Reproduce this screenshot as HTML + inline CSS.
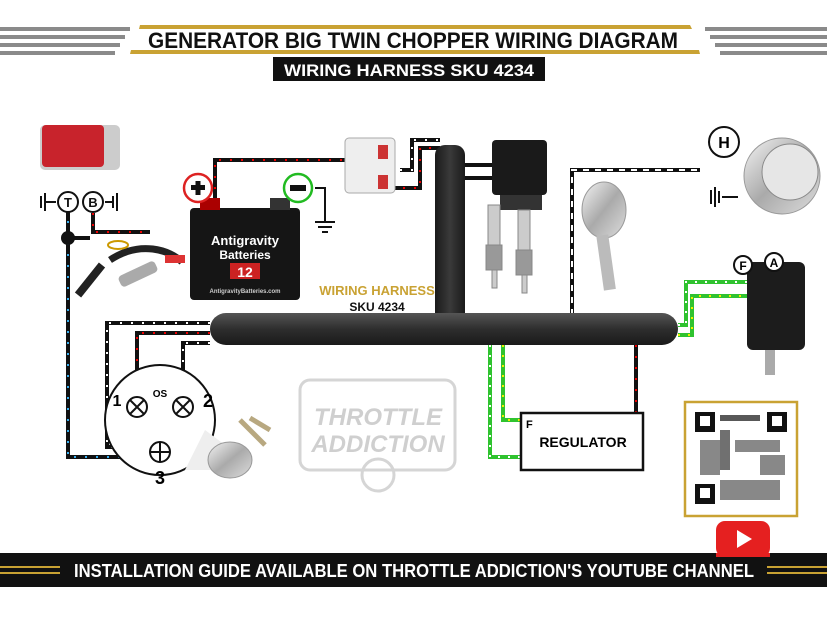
<!DOCTYPE html>
<html><head><meta charset="utf-8"><style>
html,body{margin:0;padding:0;background:#fff}
svg{display:block}
text{font-family:"Liberation Sans",sans-serif;font-weight:bold}
</style></head><body>
<svg width="827" height="620" viewBox="0 0 827 620" xmlns="http://www.w3.org/2000/svg">
<defs>
<linearGradient id="tube" x1="0" y1="0" x2="0" y2="1"><stop offset="0" stop-color="#555"/><stop offset="0.5" stop-color="#2e2e2e"/><stop offset="1" stop-color="#1a1a1a"/></linearGradient>
<linearGradient id="tubev" x1="0" y1="0" x2="1" y2="0"><stop offset="0" stop-color="#1a1a1a"/><stop offset="0.5" stop-color="#3a3a3a"/><stop offset="1" stop-color="#1a1a1a"/></linearGradient>
<linearGradient id="chrome" x1="0" y1="0" x2="1" y2="1"><stop offset="0" stop-color="#f4f4f4"/><stop offset="0.5" stop-color="#aaa"/><stop offset="1" stop-color="#ddd"/></linearGradient>
</defs>
<!-- header stripes -->
<g fill="#8a8a8a">
<rect x="0" y="27" width="130" height="4"/><rect x="0" y="35" width="125" height="4"/><rect x="0" y="43" width="120" height="4"/><rect x="0" y="51" width="115" height="4"/>
<rect x="705" y="27" width="122" height="4"/><rect x="710" y="35" width="117" height="4"/><rect x="715" y="43" width="112" height="4"/><rect x="720" y="51" width="107" height="4"/>
</g>
<polygon points="140,25 690,25 700,54 130,54" fill="#fff"/>
<polygon points="140,25 690,25 692,29 139,29" fill="#c9a233"/>
<polygon points="131,50 699,50 700,54 130,54" fill="#c9a233"/>
<text x="413" y="48" text-anchor="middle" font-size="22" fill="#111" textLength="530" lengthAdjust="spacingAndGlyphs">GENERATOR BIG TWIN CHOPPER WIRING DIAGRAM</text>
<rect x="273" y="57" width="272" height="24" fill="#111"/>
<text x="409" y="76" text-anchor="middle" font-size="17" fill="#fff" textLength="250" lengthAdjust="spacingAndGlyphs">WIRING HARNESS SKU 4234</text>

<!-- wires -->
<g fill="none" stroke-linejoin="miter">
<g stroke="#111" stroke-width="4">
<path d="M68,210 V457 H157"/>
<path d="M93,213 V232 H150"/>
<path d="M68,238 H90"/>
<path d="M210,323 H107 V447 H155"/>
<path d="M210,333 H137 V392"/>
<path d="M210,343 H183 V392"/>
<path d="M215,200 V160 H348"/>
<path d="M392,188 H420 V148 H440"/>
<path d="M400,170 H412 V140 H440"/>
<path d="M465,178 H497"/>
<path d="M465,165 H497"/>
<path d="M572,315 V170 H700"/>
<path d="M678,325 H686 V282 H748"/>
<path d="M678,335 H692 V296 H770 V282"/>
<path d="M490,345 V457 H527"/>
<path d="M503,345 V420 H522"/>
<path d="M636,345 V413"/>
</g>
<g stroke-width="2" stroke-dasharray="2 9">
<path d="M68,210 V457 H157" stroke="#3ab0f0"/>
<path d="M93,213 V232 H150" stroke="#e00"/>
<path d="M210,323 H107 V447 H155" stroke="#fff"/>
<path d="M210,333 H137 V392" stroke="#e00"/>
<path d="M210,343 H183 V392" stroke="#fff"/>
<path d="M215,200 V160 H348" stroke="#e00"/>
<path d="M392,188 H420 V148 H440" stroke="#e00"/>
<path d="M400,170 H412 V140 H440" stroke="#fff"/>
<path d="M572,315 V170 H700" stroke="#fff" stroke-dasharray="6 6"/>
<path d="M636,345 V413" stroke="#e00"/>
</g>
<g stroke="#2fc32f" stroke-width="4">
<path d="M678,325 H686 V282 H748"/>
<path d="M678,335 H692 V296 H770 V282"/>
<path d="M490,345 V457 H527"/>
<path d="M503,345 V420 H522"/>
</g>
<g stroke-width="2" stroke-dasharray="2 8">
<path d="M678,325 H686 V282 H748" stroke="#fff"/>
<path d="M678,335 H692 V296 H770 V282" stroke="#ee0"/>
<path d="M490,345 V457 H527" stroke="#fff"/>
<path d="M503,345 V420 H522" stroke="#ee0"/>
</g>
</g>
<circle cx="68" cy="238" r="7" fill="#111"/>

<!-- tail light -->
<rect x="40" y="125" width="80" height="45" rx="5" fill="#ccc"/>
<rect x="42" y="125" width="62" height="42" rx="4" fill="#c8232c"/>
<g fill="#111">
<circle cx="68" cy="202" r="10" fill="#fff" stroke="#111" stroke-width="2"/><text x="68" y="207" text-anchor="middle" font-size="13">T</text>
<circle cx="93" cy="202" r="10" fill="#fff" stroke="#111" stroke-width="2"/><text x="93" y="207" text-anchor="middle" font-size="13">B</text>
<rect x="40" y="196" width="2" height="12"/><rect x="44" y="193" width="2" height="18"/><rect x="46" y="201" width="10" height="2"/>
<rect x="112" y="196" width="2" height="12"/><rect x="116" y="193" width="2" height="18"/><rect x="105" y="201" width="8" height="2"/>
</g>
<!-- sensor parts -->
<path d="M110,260 C140,240 170,250 182,262" stroke="#222" stroke-width="7" fill="none"/>
<path d="M102,265 L78,295" stroke="#222" stroke-width="8"/>
<rect x="118" y="268" width="40" height="12" rx="4" fill="#aaa" transform="rotate(-25 138 274)"/>
<rect x="165" y="255" width="20" height="8" fill="#d33"/>
<ellipse cx="118" cy="245" rx="10" ry="4" fill="none" stroke="#c90" stroke-width="2"/>

<!-- battery -->
<rect x="190" y="208" width="110" height="92" rx="4" fill="#151515"/>
<rect x="200" y="198" width="20" height="12" fill="#a00"/><rect x="270" y="198" width="20" height="12" fill="#333"/>
<text x="245" y="245" text-anchor="middle" font-size="13" fill="#fff">Antigravity</text>
<text x="245" y="259" text-anchor="middle" font-size="12" fill="#fff">Batteries</text>
<rect x="230" y="263" width="30" height="16" fill="#c22"/><text x="245" y="277" text-anchor="middle" font-size="14" fill="#fff">12</text>
<text x="245" y="293" text-anchor="middle" font-size="6" fill="#ccc">AntigravityBatteries.com</text>
<circle cx="198" cy="188" r="14" fill="#fff" stroke="#d22" stroke-width="2.5"/>
<rect x="191" y="185" width="14" height="5" fill="#111"/><rect x="195.5" y="181" width="5" height="14" fill="#111"/>
<circle cx="298" cy="188" r="14" fill="#fff" stroke="#2b2" stroke-width="2.5"/>
<rect x="290" y="185" width="16" height="6" fill="#111"/>
<path d="M315,188 H325 V222 M315,222 H335 M318,227 H332 M322,232 H328" stroke="#111" stroke-width="2" fill="none"/>

<!-- circuit breaker -->
<rect x="345" y="138" width="50" height="55" rx="4" fill="#eee" stroke="#aaa"/>
<rect x="378" y="145" width="10" height="14" fill="#c33"/><rect x="378" y="175" width="10" height="14" fill="#c33"/>

<!-- harness tubes -->
<rect x="435" y="145" width="30" height="180" rx="10" fill="url(#tubev)"/>
<rect x="210" y="313" width="468" height="32" rx="16" fill="url(#tube)"/>
<text x="377" y="295" text-anchor="middle" font-size="13" fill="#c9a233">WIRING HARNESS</text>
<text x="377" y="311" text-anchor="middle" font-size="12" fill="#111">SKU 4234</text>

<!-- coil -->
<rect x="492" y="140" width="55" height="55" rx="4" fill="#1a1a1a"/>
<rect x="500" y="195" width="42" height="15" fill="#333"/>
<!-- spark plugs -->
<g fill="#ccc" stroke="#888">
<rect x="488" y="205" width="12" height="40"/><rect x="486" y="245" width="16" height="25" fill="#999"/><rect x="492" y="270" width="5" height="18"/>
<rect x="518" y="210" width="12" height="40"/><rect x="516" y="250" width="16" height="25" fill="#999"/><rect x="522" y="275" width="5" height="18"/>
</g>
<!-- oil tank part -->
<ellipse cx="604" cy="210" rx="22" ry="28" fill="url(#chrome)" stroke="#999"/>
<rect x="600" y="235" width="12" height="55" fill="#bbb" transform="rotate(-8 606 262)"/>

<!-- headlight -->
<circle cx="724" cy="142" r="15" fill="#fff" stroke="#111" stroke-width="2"/><text x="724" y="148" text-anchor="middle" font-size="16">H</text>
<circle cx="782" cy="176" r="38" fill="url(#chrome)" stroke="#999"/>
<circle cx="790" cy="172" r="28" fill="#e6e6e6" stroke="#888"/>
<g fill="#111"><rect x="710" y="190" width="2" height="14"/><rect x="714" y="187" width="2" height="20"/><rect x="718" y="191" width="2" height="12"/><rect x="722" y="196" width="16" height="2"/></g>

<!-- generator -->
<rect x="747" y="262" width="58" height="88" rx="6" fill="#1c1c1c"/>
<rect x="765" y="350" width="10" height="25" fill="#aaa"/>
<circle cx="743" cy="265" r="9" fill="#fff" stroke="#111" stroke-width="2"/><text x="743" y="270" text-anchor="middle" font-size="12">F</text>
<circle cx="774" cy="262" r="9" fill="#fff" stroke="#111" stroke-width="2"/><text x="774" y="267" text-anchor="middle" font-size="12">A</text>

<!-- regulator -->
<rect x="521" y="413" width="122" height="57" fill="#fff" stroke="#111" stroke-width="2.5"/>
<text x="526" y="428" font-size="11">F</text>
<text x="583" y="447" text-anchor="middle" font-size="14">REGULATOR</text>

<!-- ignition switch -->
<circle cx="160" cy="420" r="55" fill="#fff" stroke="#111" stroke-width="2"/>
<g stroke="#111" stroke-width="2" fill="#fff">
<circle cx="137" cy="407" r="10"/><path d="M130,400 L144,414 M144,400 L130,414"/>
<circle cx="183" cy="407" r="10"/><path d="M176,400 L190,414 M190,400 L176,414"/>
<circle cx="160" cy="452" r="10"/><path d="M150,452 H170 M160,442 V462"/>
</g>
<text x="160" y="397" text-anchor="middle" font-size="10">OS</text>
<text x="117" y="406" text-anchor="middle" font-size="16">1</text>
<text x="208" y="407" text-anchor="middle" font-size="18">2</text>
<text x="160" y="484" text-anchor="middle" font-size="18">3</text>
<polygon points="205,430 225,445 225,470 185,470" fill="#eee"/>
<ellipse cx="230" cy="460" rx="22" ry="18" fill="url(#chrome)" stroke="#999"/>
<path d="M240,420 L265,445 M250,418 L270,430" stroke="#b8a880" stroke-width="5"/>

<!-- logo -->
<g opacity="0.35">
<rect x="300" y="380" width="155" height="90" rx="10" fill="none" stroke="#888" stroke-width="3"/>
<text x="378" y="425" text-anchor="middle" font-size="24" fill="#777" font-style="italic">THROTTLE</text>
<text x="378" y="452" text-anchor="middle" font-size="24" fill="#777" font-style="italic">ADDICTION</text>
<circle cx="378" cy="475" r="16" fill="none" stroke="#888" stroke-width="3"/>
</g>

<!-- QR -->
<rect x="685" y="402" width="112" height="114" fill="#fff" stroke="#c9a233" stroke-width="2.5"/>
<g fill="#111">
<rect x="695" y="412" width="20" height="20"/><rect x="767" y="412" width="20" height="20"/><rect x="695" y="484" width="20" height="20"/>
<rect x="720" y="415" width="40" height="6" opacity=".7"/><rect x="720" y="430" width="10" height="40" opacity=".6"/>
<rect x="735" y="440" width="45" height="12" opacity=".5"/><rect x="720" y="480" width="60" height="20" opacity=".5"/>
<rect x="700" y="440" width="20" height="35" opacity=".5"/><rect x="760" y="455" width="25" height="20" opacity=".5"/>
</g>
<rect x="700" y="416" width="10" height="10" fill="#fff"/><rect x="772" y="416" width="10" height="10" fill="#fff"/><rect x="700" y="488" width="10" height="10" fill="#fff"/>
<rect x="716" y="521" width="54" height="36" rx="9" fill="#e52020"/>
<polygon points="737,530 737,548 752,539" fill="#fff"/>

<!-- bottom bar -->
<rect x="0" y="553" width="827" height="34" fill="#111"/>
<rect x="0" y="566" width="60" height="2" fill="#c9a233"/><rect x="0" y="572" width="60" height="2" fill="#c9a233"/>
<rect x="767" y="566" width="60" height="2" fill="#c9a233"/><rect x="767" y="572" width="60" height="2" fill="#c9a233"/>
<text x="414" y="577" text-anchor="middle" font-size="18" fill="#fff" textLength="680" lengthAdjust="spacingAndGlyphs">INSTALLATION GUIDE AVAILABLE ON THROTTLE ADDICTION'S YOUTUBE CHANNEL</text>
<rect x="716" y="553" width="54" height="4" fill="#e52020"/>
</svg>
</body></html>
